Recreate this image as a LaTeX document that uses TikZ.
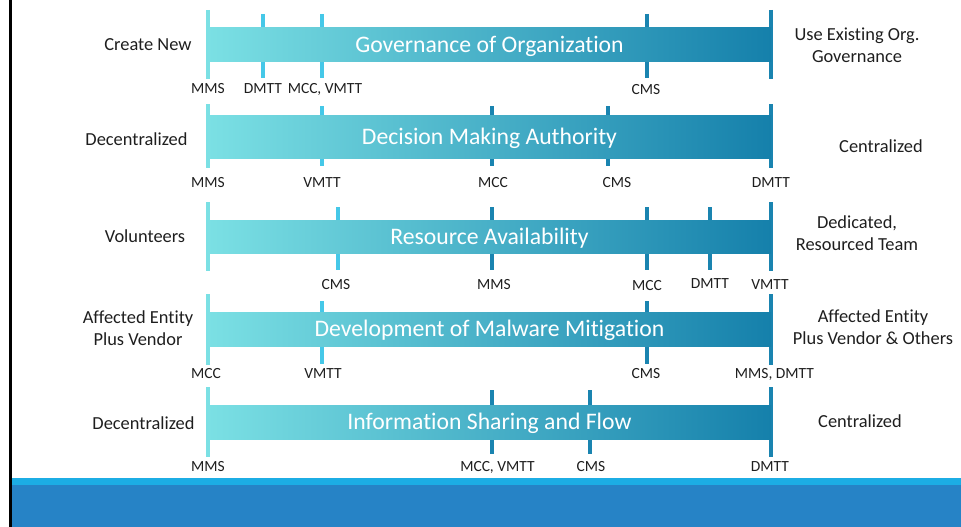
\documentclass[tikz,border=0pt]{standalone}
\usepackage{fontspec}
\setmainfont{Carlito}[Ligatures=NoCommon]
\definecolor{barlight}{HTML}{7BE0E4}
\definecolor{bardark}{HTML}{1580AB}
\definecolor{tickcyan}{HTML}{45C8E8}
\definecolor{tickdark}{HTML}{1A84B0}
\definecolor{txt}{HTML}{1E1E1E}
\definecolor{stripe}{HTML}{1CADE4}
\definecolor{band}{HTML}{2683C6}
\begin{document}
\begin{tikzpicture}[x=1pt,y=-1pt,
  bar/.style={left color=barlight,right color=bardark,draw=none,inner sep=0pt,
    minimum width=563pt,text=white,font=\fontsize{23.7}{26}\selectfont,
    text height=15pt,text depth=0pt},
  endtick/.style={line width=4pt},
  midtick/.style={line width=3.5pt},
  ticklabel/.style={text=txt,inner sep=0pt,font=\fontsize{15.5}{18}\selectfont,
    text height=9.8pt,text depth=0pt},
  side/.style={text=txt,inner sep=0pt,align=center,font=\fontsize{18.4}{22}\selectfont}]
\useasboundingbox (0,0) rectangle (961,527);

% frame edge and footer band
\fill[black] (8.5,0) rectangle (11.5,527);
\fill[stripe] (11.5,478) rectangle (961,485);
\fill[band] (11.5,485) rectangle (961,527);

% ---------- Governance of Organization ----------
\draw[endtick,barlight] (208,10) coordinate (a0t) -- (208,79) coordinate (a0b);
\draw[midtick,tickcyan] (263,14) coordinate (a1t) -- (263,78) coordinate (a1b);
\draw[midtick,tickcyan] (322,14) coordinate (a2t) -- (322,78) coordinate (a2b);
\draw[midtick,tickdark] (647,14) coordinate (a3t) -- (647,78) coordinate (a3b);
\draw[endtick,tickdark] (771,10) coordinate (a4t) -- (771,79) coordinate (a4b);
\node[bar,minimum height=34pt] (gov) at (489.5,45) {Governance of Organization};
\node[ticklabel] (a0l) at (208,88.3) {MMS};
\node[ticklabel] (a1l) at (263,88.3) {DMTT};
\node[ticklabel] (a2l) at (325,88.3) {MCC, VMTT};
\node[ticklabel] (a3l) at (646,90) {CMS};
\node[side] (govL) at (148,45) {Create New};
\node[side] (govR) at (857,45) {Use Existing Org.\\Governance};

% ---------- Decision Making Authority ----------
\draw[endtick,barlight] (208,104) coordinate (b0t) -- (208,168) coordinate (b0b);
\draw[midtick,tickcyan] (322,106) coordinate (b1t) -- (322,166) coordinate (b1b);
\draw[midtick,tickdark] (492,106) coordinate (b2t) -- (492,166) coordinate (b2b);
\draw[midtick,tickdark] (608,106) coordinate (b3t) -- (608,166) coordinate (b3b);
\draw[endtick,tickdark] (771,104) coordinate (b4t) -- (771,168) coordinate (b4b);
\node[bar,minimum height=43pt] (dec) at (489.5,136.5) {Decision Making Authority};
\node[ticklabel] (b0l) at (208,182.5) {MMS};
\node[ticklabel] (b1l) at (322,182.5) {VMTT};
\node[ticklabel] (b2l) at (493,182.5) {MCC};
\node[ticklabel] (b3l) at (617,182.5) {CMS};
\node[ticklabel] (b4l) at (771,182.5) {DMTT};
\node[side] (decL) at (136.5,139) {Decentralized};
\node[side] (decR) at (881,146) {Centralized};

% ---------- Resource Availability ----------
\draw[endtick,barlight] (208,202) coordinate (c0t) -- (208,271) coordinate (c0b);
\draw[midtick,tickcyan] (338,207) coordinate (c1t) -- (338,270) coordinate (c1b);
\draw[midtick,tickdark] (492,207) coordinate (c2t) -- (492,270) coordinate (c2b);
\draw[midtick,tickdark] (647,207) coordinate (c3t) -- (647,270) coordinate (c3b);
\draw[midtick,tickdark] (710,207) coordinate (c4t) -- (710,270) coordinate (c4b);
\draw[endtick,tickdark] (771,202) coordinate (c5t) -- (771,271) coordinate (c5b);
\node[bar,minimum height=33pt] (res) at (489.5,236.5) {Resource Availability};
\node[ticklabel] (c1l) at (336,285) {CMS};
\node[ticklabel] (c2l) at (494,285) {MMS};
\node[ticklabel] (c3l) at (647,286) {MCC};
\node[ticklabel] (c4l) at (710,283.5) {DMTT};
\node[ticklabel] (c5l) at (770,285) {VMTT};
\node[side] (resL) at (145,236) {Volunteers};
\node[side] (resR) at (857,233) {Dedicated,\\Resourced Team};

% ---------- Development of Malware Mitigation ----------
\draw[endtick,barlight] (208,294) coordinate (d0t) -- (208,365) coordinate (d0b);
\draw[midtick,tickcyan] (322,301) coordinate (d1t) -- (322,364) coordinate (d1b);
\draw[midtick,tickdark] (647,301) coordinate (d2t) -- (647,364) coordinate (d2b);
\draw[endtick,tickdark] (771,294) coordinate (d3t) -- (771,365) coordinate (d3b);
\node[bar,minimum height=34pt] (dev) at (489.5,329) {Development of Malware Mitigation};
\node[ticklabel] (d0l) at (206,373.5) {MCC};
\node[ticklabel] (d1l) at (323,373.5) {VMTT};
\node[ticklabel] (d2l) at (646,373.5) {CMS};
\node[ticklabel] (d3l) at (774.5,373.5) {MMS, DMTT};
\node[side] (devL) at (138,328.5) {Affected Entity\\Plus Vendor};
\node[side] (devR) at (873,327.5) {Affected Entity\\Plus Vendor \& Others};

% ---------- Information Sharing and Flow ----------
\draw[endtick,barlight] (208,387) coordinate (e0t) -- (208,457) coordinate (e0b);
\draw[midtick,tickdark] (492,390) coordinate (e1t) -- (492,454) coordinate (e1b);
\draw[midtick,tickdark] (590,390) coordinate (e2t) -- (590,454) coordinate (e2b);
\draw[endtick,tickdark] (771,387) coordinate (e3t) -- (771,457) coordinate (e3b);
\node[bar,minimum height=34pt] (info) at (489.5,422) {Information Sharing and Flow};
\node[ticklabel] (e0l) at (208,466.5) {MMS};
\node[ticklabel] (e1l) at (497.5,466.5) {MCC, VMTT};
\node[ticklabel] (e2l) at (591,466.5) {CMS};
\node[ticklabel] (e3l) at (770,466.5) {DMTT};
\node[side] (infoL) at (143.5,423) {Decentralized};
\node[side] (infoR) at (860,421) {Centralized};
\end{tikzpicture}
\end{document}
